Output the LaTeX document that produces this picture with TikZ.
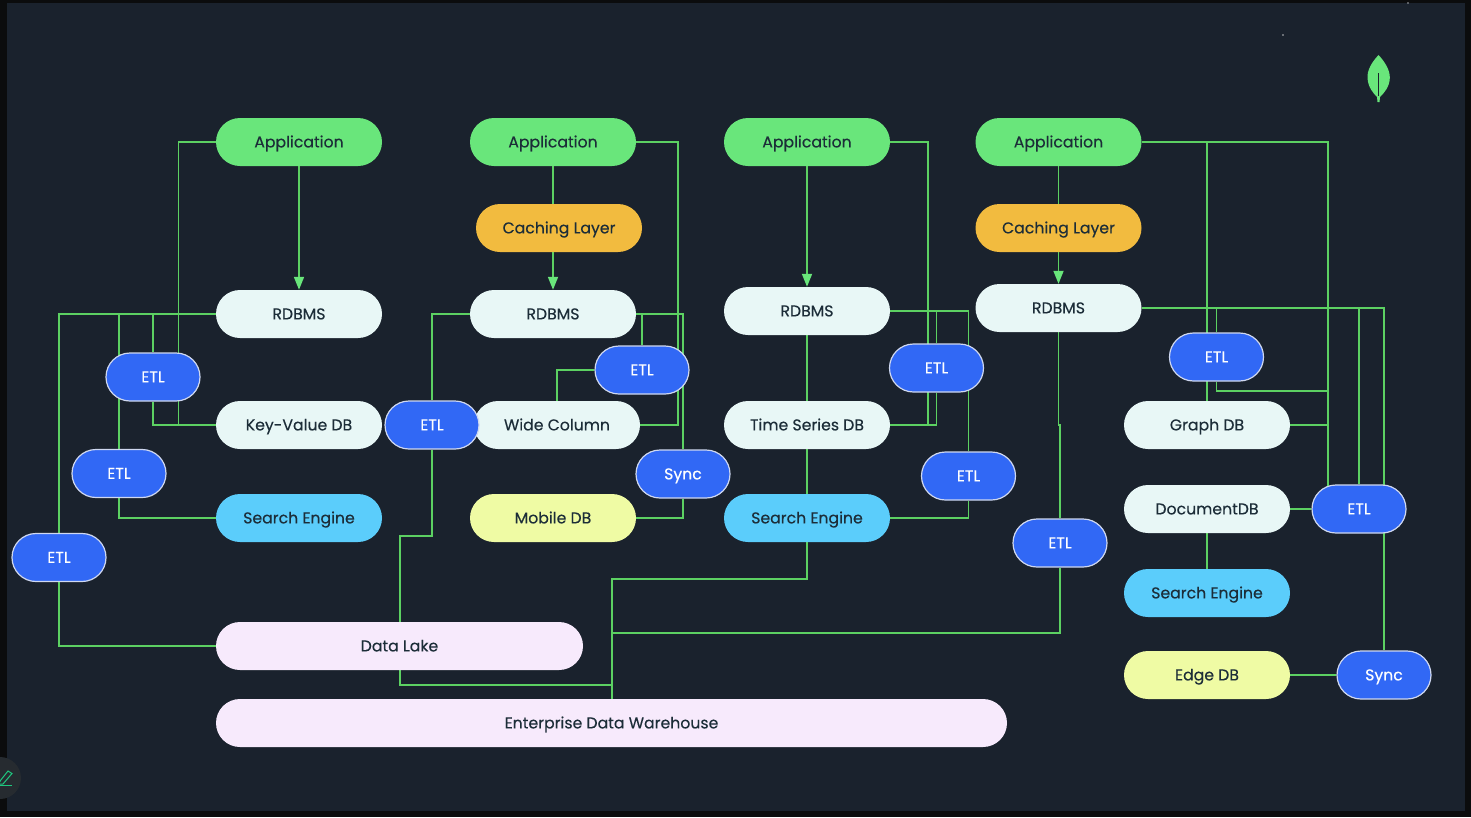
\documentclass[tikz,border=0pt]{standalone}
\usepackage{fontspec}
\setmainfont{Poppins}[FakeBold=0.25]
\usetikzlibrary{shapes.misc,arrows.meta,positioning}
\definecolor{outer}{HTML}{0B0C0D}
\definecolor{panel}{HTML}{1A222D}
\definecolor{wire}{HTML}{5CD162}
\definecolor{cgreen}{HTML}{69E67B}
\definecolor{camber}{HTML}{F2BB3F}
\definecolor{cpale}{HTML}{E8F7F6}
\definecolor{csky}{HTML}{5BCDFB}
\definecolor{cyellow}{HTML}{EFFBA4}
\definecolor{clilac}{HTML}{F7EAFC}
\definecolor{cblue}{HTML}{3168F5}
\definecolor{cedge}{HTML}{CFD8F0}
\definecolor{ink}{HTML}{1C2D38}
\definecolor{badge}{HTML}{262B30}
\definecolor{pen}{HTML}{1FC77F}
\pgfdeclarelayer{wires}
\pgfsetlayers{wires,main}
\tikzset{
 pill/.style={rounded rectangle,minimum width=166pt,minimum height=48pt,inner sep=0pt,text=ink,text height=10.8pt,text depth=0pt,font=\fontsize{15.7}{18}\selectfont},
 appbox/.style={pill,fill=cgreen},
 cachebox/.style={pill,fill=camber},
 dbbox/.style={pill,fill=cpale},
 searchbox/.style={pill,fill=csky},
 edgebox/.style={pill,fill=cyellow},
 lakebox/.style={pill,fill=clilac},
 etlbox/.style={pill,minimum width=94pt,fill=cblue,draw=cedge,line width=1.2pt,text=white},
 wirel/.style={draw=wire,line width=1.7pt},
 arrowl/.style={wirel,-{Triangle[length=13pt,width=10pt,color=cgreen]}}
}
\begin{document}
\begin{tikzpicture}[x=1pt,y=-1pt]
\useasboundingbox (0,0) rectangle (1471,817);
\begin{pgfonlayer}{wires}
\fill[outer] (0,0) rectangle (1471,817);
\fill[panel] (7,3) rectangle (1465,811);
\end{pgfonlayer}
% nodes
\node[appbox] (app1) at (299,142) {Application};
\node[appbox] (app2) at (553,142) {Application};
\node[appbox] (app3) at (807,142) {Application};
\node[appbox] (app4) at (1058.5,142) {Application};
\node[cachebox] (cache2) at (559,228) {Caching Layer};
\node[cachebox] (cache4) at (1058.5,228) {Caching Layer};
\node[dbbox] (rd1) at (299,314) {RDBMS};
\node[dbbox] (rd2) at (553,314) {RDBMS};
\node[dbbox] (rd3) at (807,311) {RDBMS};
\node[dbbox] (rd4) at (1058.5,308) {RDBMS};
\node[dbbox] (kv) at (299,425) {Key-Value DB};
\node[searchbox] (se1) at (299,518) {Search Engine};
\node[dbbox] (wc) at (557,425) {Wide Column};
\node[edgebox] (mob) at (553,518) {Mobile DB};
\node[dbbox] (ts) at (807,425) {Time Series DB};
\node[searchbox] (se3) at (807,518) {Search Engine};
\node[dbbox] (graph) at (1207,425) {Graph DB};
\node[dbbox] (doc) at (1207,509) {DocumentDB};
\node[searchbox] (se4) at (1207,593) {Search Engine};
\node[edgebox] (edge) at (1207,675) {Edge DB};
\node[lakebox,minimum width=367pt] (lake) at (399.5,646) {Data Lake};
\node[lakebox,minimum width=791pt] (edw) at (611.5,723) {Enterprise Data Warehouse};
\node[etlbox] (e1) at (153,377) {ETL};
\node[etlbox] (e2) at (119,473.5) {ETL};
\node[etlbox] (e3) at (59,557.5) {ETL};
\node[etlbox] (e4) at (432,425) {ETL};
\node[etlbox] (e5) at (642,370) {ETL};
\node[etlbox] (s1) at (683,474) {Sync};
\node[etlbox] (e6) at (936.5,368) {ETL};
\node[etlbox] (e7) at (968.5,476) {ETL};
\node[etlbox] (e8) at (1060,543) {ETL};
\node[etlbox] (e9) at (1216.5,357) {ETL};
\node[etlbox] (e10) at (1359,509) {ETL};
\node[etlbox] (s2) at (1384,675) {Sync};
% free bends
\coordinate (b1) at (400,536);
\coordinate (j1) at (612,685);
\coordinate (j2) at (612,579);
\coordinate (j3) at (612,633);
\coordinate (j4) at (1328,391);
\coordinate (j5) at (1328,509);
\coordinate (j6) at (1216.5,391);
\begin{pgfonlayer}{wires}
% column 1
\draw[arrowl] (app1.south) -- (rd1.north);
\draw[wirel] (app1.west) -| (178.5,425) -- (kv.west);
\draw[wirel] (rd1.west) -| (e3.north);
\draw[wirel] (e3.south) |- (lake.west);
\draw[wirel] (rd1.west -| e2.north) -- (e2.north);
\draw[wirel] (e2.south) |- (se1.west);
\draw[wirel] (rd1.west -| e1.north) -- (e1.north);
\draw[wirel] (e1.south) |- (kv.west);
% column 2
\draw[wirel] (app2.south) -- (app2.south |- cache2.north);
\draw[arrowl] (cache2.south -| rd2.north) -- (rd2.north);
\draw[wirel] (app2.east) -| (678,425) -- (wc.east);
\draw[wirel] (rd2.west) -| (e4.north);
\draw[wirel] (e4.south) |- (b1) -- (lake.north -| b1);
\draw[wirel] (rd2.east) -| (s1.north);
\draw[wirel] (s1.south) |- (mob.east);
\draw[wirel] (rd2.east -| e5.north) -- (e5.north);
\draw[wirel] (e5.west) -| (wc.north);
\draw[wirel] (lake.south -| b1) |- (j1) -- (edw.north -| j1);
% column 3
\draw[arrowl] (app3.south) -- (rd3.north);
\draw[wirel] (app3.east) -| (928,425) -- (ts.east);
\draw[wirel] (rd3.east) -| (e7.north);
\draw[wirel] (e7.south) |- (se3.east);
\draw[wirel] (rd3.east -| e6.north) -- (e6.north);
\draw[wirel] (e6.south) |- (ts.east);
\draw[wirel] (rd3.south) -- (ts.north);
\draw[wirel] (ts.south) -- (se3.north);
\draw[wirel] (se3.south) |- (j2) -- (edw.north -| j2);
% column 4
\draw[wirel] (app4.south) -- (cache4.north);
\draw[arrowl] (cache4.south) -- (rd4.north);
\draw[wirel] (rd4.south) |- (1060,425) -- (e8.north);
\draw[wirel] (e8.south) |- (j3);
\draw[wirel] (app4.east) -| (j5);
\draw[wirel] (app4.east -| graph.north) -- (graph.north);
\draw[wirel] (rd4.east) -| (s2.north);
\draw[wirel] (rd4.east -| e9.north) -- (e9.north);
\draw[wirel] (e9.south) -- (j6) -- (j4);
\draw[wirel] (rd4.east -| e10.north) -- (e10.north);
\draw[wirel] (graph.east) -- (graph.east -| j4);
\draw[wirel] (doc.east) -- (e10.west);
\draw[wirel] (doc.south) -- (se4.north);
\draw[wirel] (edge.east) -- (s2.west);
\end{pgfonlayer}
% leaf
\fill[cgreen] (1378.5,55) .. controls (1371,63) and (1367,71) .. (1367.5,78) .. controls (1368,87) and (1373,93) .. (1377,97) -- (1377.5,102) -- (1379.5,102) -- (1380,97) .. controls (1384,93) and (1389.5,87) .. (1389.8,78) .. controls (1390,71) and (1386,63) .. (1378.5,55) -- cycle;
\draw[panel,line width=0.8pt] (1378.3,73) -- (1378.3,96);
% specks
\fill[white!70!panel] (1283,35) circle (0.8pt);
\fill[white!60!panel] (1408,3) circle (0.8pt);
% pencil badge
\fill[badge] (0,778) circle (21pt);
\draw[pen,line width=1pt] (0,785) -- (12,785);
\draw[pen,line width=1pt] (0,782) -- (0,781) -- (8,771) -- (12,773.5) -- (3,784) -- (0,784);
\end{tikzpicture}
\end{document}
